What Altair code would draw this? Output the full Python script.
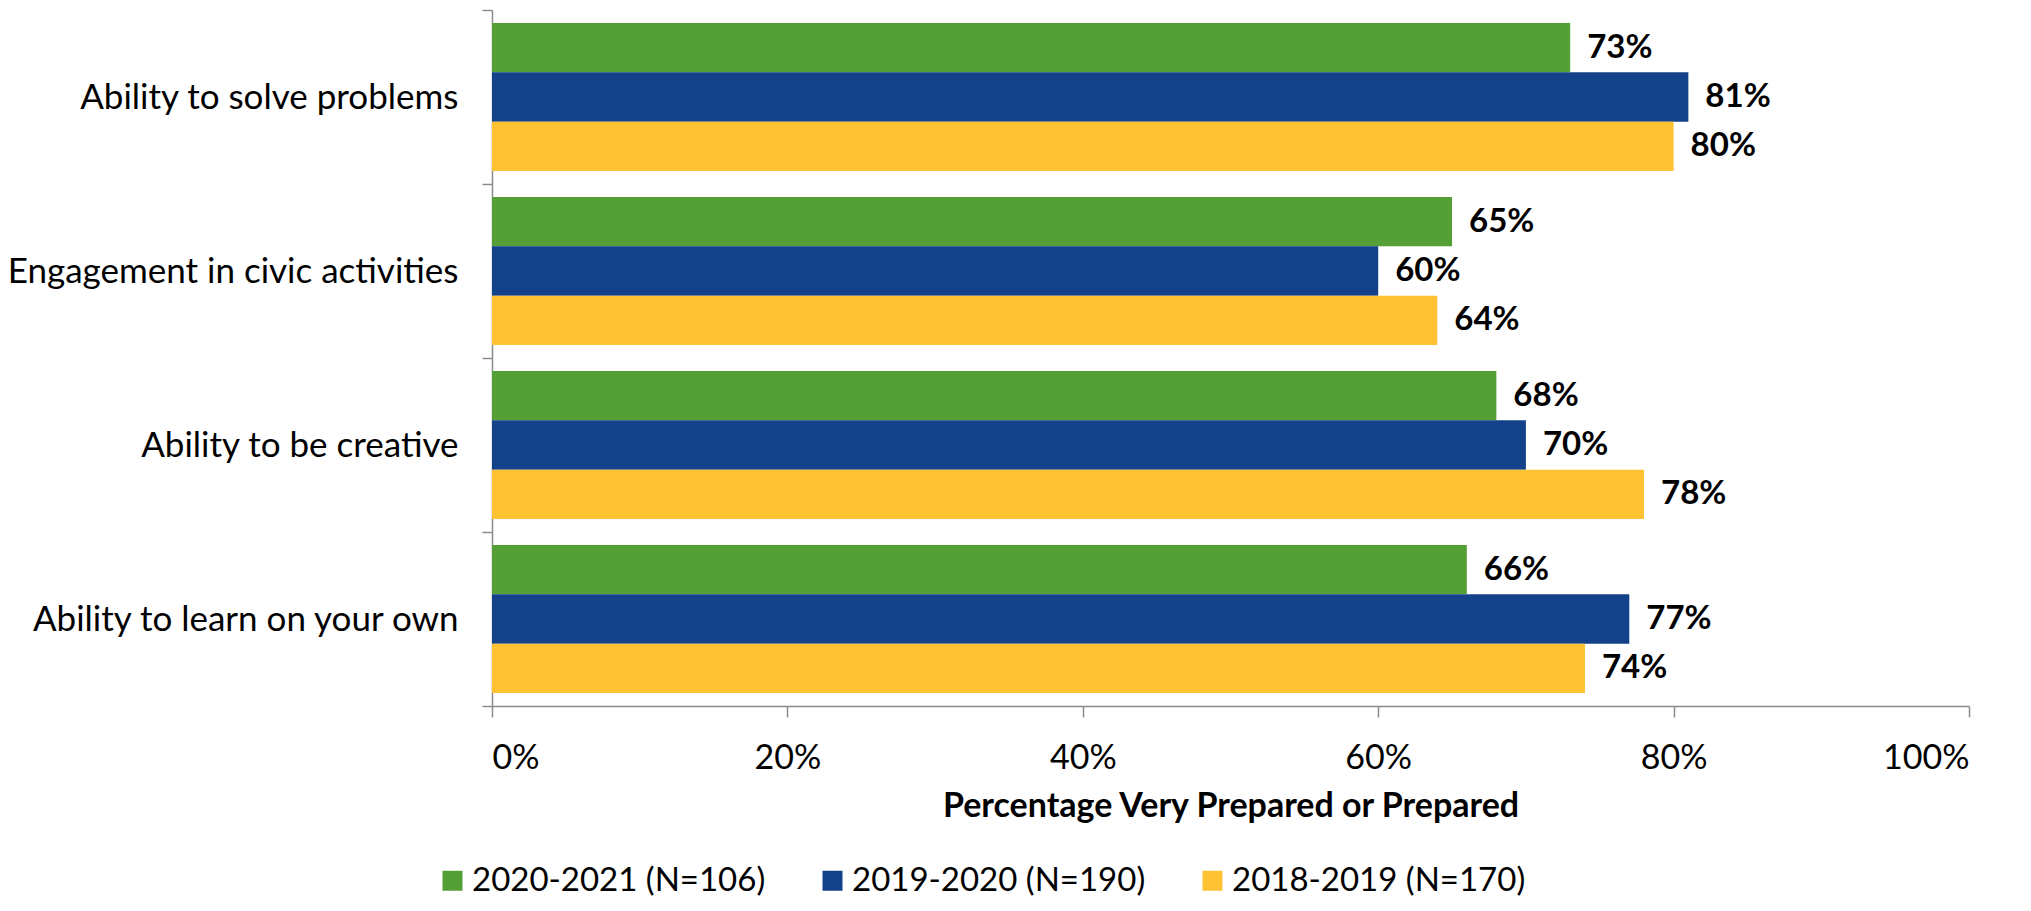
import altair as alt
import pandas as pd

categories = ["Ability to solve problems", "Engagement in civic activities",
              "Ability to be creative", "Ability to learn on your own"]
series = ["2020-2021 (N=106)", "2019-2020 (N=190)", "2018-2019 (N=170)"]
v_2020_2021 = [73, 65, 68, 66]
v_2019_2020 = [81, 60, 70, 77]
v_2018_2019 = [80, 64, 78, 74]
colors = ["#54A037", "#13428A", "#FEC232"]

rows = []
for s, vals in zip(series, [v_2020_2021, v_2019_2020, v_2018_2019]):
    for c, v in zip(categories, vals):
        rows.append({"cat": c, "series": s, "value": v / 100, "label": f"{v}%"})
df = pd.DataFrame(rows)

FONT = "Lato"

y_scale = alt.Scale(paddingInner=0, paddingOuter=0)
y_enc = alt.Y("cat:N", sort=categories, title=None, scale=y_scale,
              axis=alt.Axis(tickBand="extent", domainColor="#8c8c8c", tickColor="#8c8c8c",
                            domainWidth=1.5, tickWidth=1.5, tickSize=10, labelPadding=24,
                            labelFont=FONT, labelFontSize=35, labelColor="black",
                            labelLimit=600))
off_scale = alt.Scale(paddingInner=0, paddingOuter=0.265)
yoff = alt.YOffset("series:N", sort=series, scale=off_scale)

bars = alt.Chart(df).mark_bar().encode(
    x=alt.X("value:Q", scale=alt.Scale(domain=[0, 1]),
            title="Percentage Very Prepared or Prepared",
            axis=alt.Axis(values=[0, 0.2, 0.4, 0.6, 0.8, 1.0], format=".0%", grid=False,
                          domainColor="#8c8c8c", tickColor="#8c8c8c", domainWidth=1.5,
                          tickWidth=1.5, tickSize=11, labelPadding=24,
                          labelFont=FONT, labelFontSize=34, labelColor="black",
                          titleFont=FONT, titleFontSize=34, titleFontWeight="bold",
                          titleColor="black", titlePadding=14)),
    y=y_enc,
    yOffset=yoff,
    color=alt.Color("series:N", sort=series,
                    scale=alt.Scale(domain=series, range=colors),
                    legend=alt.Legend(title=None, orient="none", direction="horizontal",
                                      columns=3, legendX=-56, legendY=854,
                                      symbolType="square", symbolSize=400,
                                      symbolStrokeWidth=0, labelFont=FONT,
                                      labelFontSize=33, labelColor="black",
                                      labelLimit=600, columnPadding=50, labelOffset=3)),
)

text = alt.Chart(df).mark_text(align="left", baseline="middle", dx=17,
                               font=FONT, fontSize=33, fontWeight="bold",
                               color="black").encode(
    x="value:Q",
    y=alt.Y("cat:N", sort=categories, scale=y_scale),
    yOffset=yoff,
    text="label:N",
)

chart = (bars + text).properties(
    width=1477, height=696,
    autosize=alt.AutoSizeParams(type="none"),
    padding={"left": 484, "top": 2, "right": 50, "bottom": 197},
).configure_view(stroke=None)

chart.save("out.html", embed_options={"renderer": "svg", "actions": False})
